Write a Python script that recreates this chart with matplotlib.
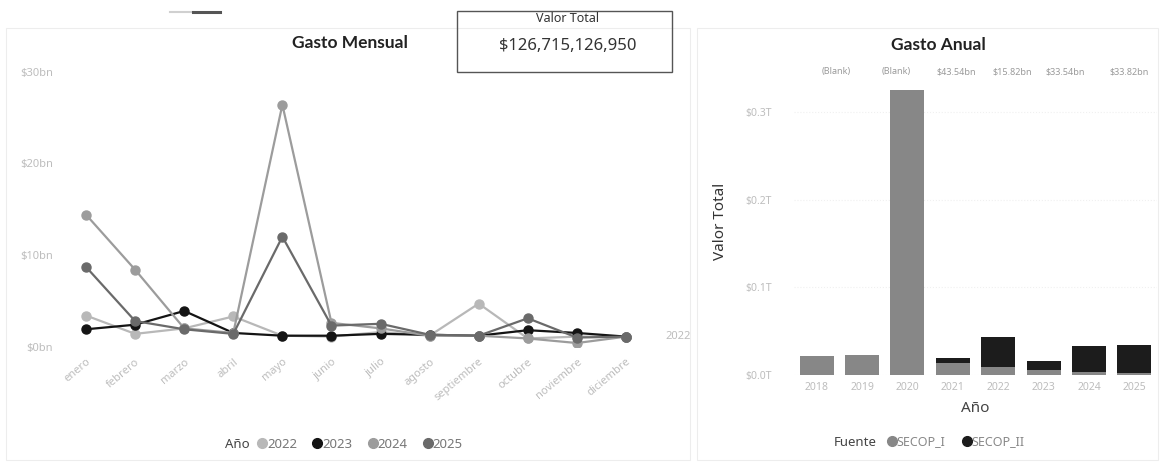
import numpy as np
import matplotlib.pyplot as plt
from matplotlib.lines import Line2D
from matplotlib.patches import Rectangle

plt.rcParams['font.family'] = ['Noto Sans', 'DejaVu Sans']

# data - monthly spend (bn) per year
meses = ['enero', 'febrero', 'marzo', 'abril', 'mayo', 'junio', 'julio',
         'agosto', 'septiembre', 'octubre', 'noviembre', 'diciembre']
anios_linea = ['2022', '2023', '2024', '2025']
gasto_2022 = [3.4, 1.4, 2.0, 3.3, 1.2, 1.1, 1.6, 1.2, 4.7, 0.9, 1.1, 1.1]
gasto_2023 = [1.9, 2.4, 3.9, 1.5, 1.2, 1.2, 1.4, 1.3, 1.2, 1.8, 1.5, 1.1]
gasto_2024 = [14.4, 8.4, 2.0, 1.5, 26.4, 2.6, 2.0, 1.2, 1.2, 0.9, 0.4, 1.1]
gasto_2025 = [8.7, 2.8, 1.9, 1.4, 12.0, 2.3, 2.5, 1.3, 1.2, 3.1, 1.0, 1.1]
y_ticks_mensual = [0, 10, 20, 30]
y_labels_mensual = ['$0bn', '$10bn', '$20bn', '$30bn']

# data - yearly spend (T) by source
anios_barra = ['2018', '2019', '2020', '2021', '2022', '2023', '2024', '2025']
secop_i = [0.0215, 0.0230, 0.325, 0.0135, 0.0090, 0.0055, 0.0030, 0.0025]
secop_ii = [0.0, 0.0, 0.0, 0.0060, 0.03454, 0.01032, 0.03054, 0.03132]
etiquetas_barra = ['(Blank)', '(Blank)', '$43.54bn', '$15.82bn', '$33.54bn', '$33.82bn']
y_ticks_anual = [0.0, 0.1, 0.2, 0.3]
y_labels_anual = ['$0.0T', '$0.1T', '$0.2T', '$0.3T']

valor_total = '$126,715,126,950'

# styles
colores_linea = ['#b8b8b8', '#141414', '#9c9c9c', '#6a6a6a']
color_i = '#878787'
color_ii = '#1c1c1c'
gris_tick = '#bdbdbd'
W, H = 1161, 465

fig = plt.figure(figsize=(W / 100, H / 100), dpi=100)


def fx(px):
    return px / W


def fy(py):
    return 1 - py / H


# faint panel borders
for x0, x1 in [(6, 690), (697, 1158)]:
    fig.patches.append(Rectangle((fx(x0), fy(460)), fx(x1 - x0), (460 - 28) / H,
                                 transform=fig.transFigure, fill=False,
                                 edgecolor='#ededed', lw=0.8))
# little slicer bar top-left
fig.add_artist(Line2D([fx(170), fx(193)], [fy(12), fy(12)], color='#d0d0d0', lw=1.5))
fig.add_artist(Line2D([fx(193), fx(220)], [fy(12), fy(12)], color='#555555', lw=2.2))

# ---- Gasto Mensual ----
ax1 = fig.add_axes([fx(61.5), fy(346.7), fx(589), (346.7 - 71.7) / H])
x = np.arange(len(meses))
series = [gasto_2022, gasto_2023, gasto_2024, gasto_2025]
handles = []
for nombre, vals, c in zip(anios_linea, series, colores_linea):
    ax1.plot(x, vals, color=c, lw=1.6, marker='o', ms=6.5, mec=c, mfc=c, zorder=3)
    handles.append(Line2D([], [], ls='none', marker='o', ms=7, color=c, label=nombre))
ax1.set_xlim(-0.5, 11.5)
ax1.set_ylim(0, 30)
ax1.set_yticks(y_ticks_mensual)
ax1.set_yticklabels(y_labels_mensual)
ax1.set_xticks(x)
ax1.set_xticklabels(meses, rotation=40, ha='right', rotation_mode='anchor')
ax1.tick_params(axis='both', length=0, colors=gris_tick, labelsize=8)
ax1.tick_params(axis='y', pad=6)
ax1.tick_params(axis='x', pad=7)
for s in ax1.spines.values():
    s.set_visible(False)
ax1.text(11.8, gasto_2022[-1], anios_linea[0], color=gris_tick, fontsize=8, va='center')

fig.text(fx(350), fy(43), 'Gasto Mensual', ha='center', va='center', family='Lato',
         fontsize=12.5, fontweight='bold', color='#222222')

# value card
fig.patches.append(Rectangle((fx(457), fy(72)), fx(215), 61 / H, transform=fig.transFigure,
                             fill=False, edgecolor='#555555', lw=1.0))
fig.text(fx(568), fy(19), 'Valor Total', ha='center', va='center', fontsize=9, color='#333333')
fig.text(fx(568), fy(46), valor_total, ha='center', va='center', fontsize=12, color='#333333')

fig.text(fx(250), fy(444), 'Año', ha='right', va='center', fontsize=9.5, color='#444444')
fig.legend(handles=handles, loc='center left', bbox_to_anchor=(fx(259), fy(444)),
           ncol=4, frameon=False, handlelength=0.5, handletextpad=0.1,
           columnspacing=1.3, fontsize=9.5, labelcolor='#777777', borderaxespad=0,
           borderpad=0)

# ---- Gasto Anual ----
ax2 = fig.add_axes([fx(794), fy(375), fx(363), (375 - 68) / H])
xb = np.arange(len(anios_barra))
ax2.bar(xb, secop_i, width=0.75, color=color_i, label='SECOP_I', zorder=2)
ax2.bar(xb, secop_ii, width=0.75, bottom=secop_i, color=color_ii, label='SECOP_II', zorder=2)
ax2.set_xlim(-0.5, 7.5)
ax2.set_ylim(0, 0.35)
ax2.set_xticks(xb)
ax2.set_xticklabels(anios_barra)
ax2.set_yticks(y_ticks_anual)
ax2.set_yticklabels(y_labels_anual)
ax2.tick_params(axis='both', length=0, colors=gris_tick, labelsize=7.5)
ax2.tick_params(axis='y', pad=16)
ax2.tick_params(axis='x', pad=5)
ax2.grid(axis='y', color='#f0f0f0', lw=0.8, ls=':', zorder=0)
for s in ax2.spines.values():
    s.set_visible(False)
pos_etiquetas = [0.42, 1.76, 3.08, 4.32, 5.48, 6.89]
for px_, t in zip(pos_etiquetas, etiquetas_barra):
    ax2.text(px_, 0.346, t, ha='center', va='center', fontsize=6.5, color='#9a9a9a')
ax2.set_xlabel('Año', fontsize=11, color='#444444', labelpad=6)
ax2.set_ylabel('Valor Total', fontsize=11, color='#333333', labelpad=12)

fig.text(fx(938), fy(45), 'Gasto Anual', ha='center', va='center', family='Lato',
         fontsize=12.5, fontweight='bold', color='#222222')

fig.text(fx(877), fy(442), 'Fuente', ha='right', va='center', fontsize=9.5, color='#444444')
h2 = [Line2D([], [], ls='none', marker='o', ms=7, color=color_i, label='SECOP_I'),
      Line2D([], [], ls='none', marker='o', ms=7, color=color_ii, label='SECOP_II')]
fig.legend(handles=h2, loc='center left', bbox_to_anchor=(fx(889), fy(442)),
           ncol=2, frameon=False, handlelength=0.5, handletextpad=0.1,
           columnspacing=1.5, fontsize=9, labelcolor='#888888', borderaxespad=0,
           borderpad=0)

fig.savefig('out.png', dpi=100, facecolor='white')
